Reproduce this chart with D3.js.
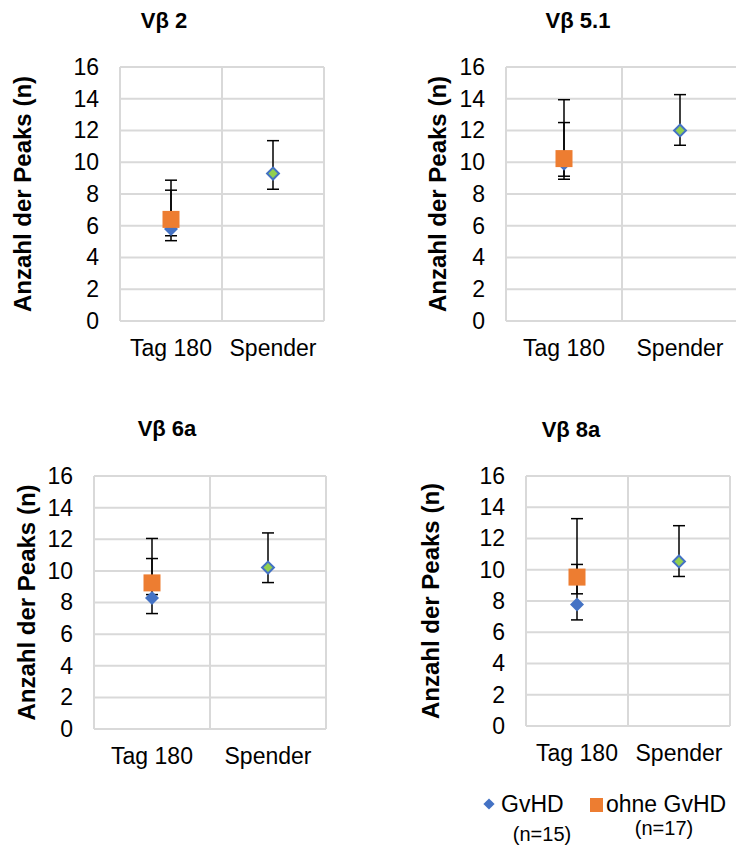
<!DOCTYPE html>
<html>
  <head>
    <meta charset="utf-8">
    <title>Anzahl der Peaks</title>
    <script src="https://d3js.org/d3.v7.min.js"></script>
    <style>
      body { margin: 0; background: #fff; }
      svg { font-family: "Liberation Sans", Arial, sans-serif; }
      .grid line { stroke: #d9d9d9; stroke-width: 2; }
      .yaxis .tick text { font-size: 23px; fill: #000; }
      .xaxis .tick text { font-size: 23px; fill: #000; }
      .title { font-size: 22px; font-weight: bold; }
      .ytitle { font-size: 24px; font-weight: bold; }
      .err { stroke: #000; stroke-width: 1.5; }
    </style>
  </head>
  <body>
    <svg id="chart" width="736" height="849"></svg>
    <script>
      // data
      panelTitles = ["Vβ 2", "Vβ 5.1", "Vβ 6a", "Vβ 8a"];
      categories = ["Tag 180", "Spender"];
      yTicks = [0, 2, 4, 6, 8, 10, 12, 14, 16];
      // GvHD (n=15), Tag 180
      gvhdMean = [5.8, 9.9, 8.29, 7.78];
      gvhdLow = [5.06, 8.93, 7.30, 6.79];
      gvhdHigh = [8.24, 12.5, 10.78, 10.34];
      // ohne GvHD (n=17), Tag 180
      ohneMean = [6.4, 10.23, 9.24, 9.53];
      ohneLow = [5.37, 9.12, 8.5, 8.46];
      ohneHigh = [8.87, 13.94, 12.05, 13.27];
      // Spender
      spenderMean = [9.29, 12.0, 10.21, 10.53];
      spenderLow = [8.3, 11.07, 9.26, 9.57];
      spenderHigh = [11.36, 14.26, 12.4, 12.82];

      // layout of the four panels
      layout = [
        { x0: 120, x1: 324, top: 67, bottom: 321, titleX: 164, titleY: 28, yLab: 31 },
        { x0: 506, x1: 738, top: 67, bottom: 321, titleX: 578, titleY: 28, yLab: 446 },
        { x0: 94, x1: 326, top: 476, bottom: 729, titleX: 167, titleY: 436, yLab: 35 },
        { x0: 526, x1: 730, top: 476, bottom: 726, titleX: 571, titleY: 437, yLab: 439 }
      ];

      svg = d3.select("#chart");
      diamond = d3.symbol().type(d3.symbolDiamond2);

      panelTitles.forEach(function(t, i) {
        let L = layout[i];
        let g = svg.append("g");
        let x = d3.scaleBand().domain(categories).range([L.x0, L.x1]);
        let y = d3.scaleLinear().domain([0, 16]).range([L.bottom, L.top]);

        // grid
        let grid = g.append("g").classed("grid", true);
        grid.selectAll(".h").data(yTicks).enter().append("line")
          .attr("x1", L.x0).attr("x2", L.x1)
          .attr("y1", function(d) { return y(d); })
          .attr("y2", function(d) { return y(d); });
        grid.selectAll(".v").data([L.x0, L.x0 + x.bandwidth(), L.x1]).enter().append("line")
          .attr("x1", function(d) { return d; }).attr("x2", function(d) { return d; })
          .attr("y1", L.top).attr("y2", L.bottom);

        // y axis labels
        let yAxis = d3.axisLeft(y).tickValues(yTicks).tickSize(0).tickPadding(21);
        g.append("g").classed("yaxis", true)
          .attr("transform", "translate(" + L.x0 + ",0)").call(yAxis)
          .call(function(a) { a.select(".domain").remove(); });

        // x axis labels
        let xAxis = d3.axisBottom(x).tickSize(0);
        g.append("g").classed("xaxis", true)
          .attr("transform", "translate(0," + L.bottom + ")").call(xAxis)
          .call(function(a) {
            a.select(".domain").remove();
            a.selectAll("text").attr("y", 35).attr("dy", null);
          });

        g.append("text").classed("title", true)
          .attr("x", L.titleX).attr("y", L.titleY)
          .attr("text-anchor", "middle").text(t);

        g.append("text").classed("ytitle", true)
          .attr("transform", "translate(" + L.yLab + "," + ((L.top + L.bottom) / 2) + ") rotate(-90)")
          .attr("text-anchor", "middle").text("Anzahl der Peaks (n)");

        let cx0 = x("Tag 180") + x.bandwidth() / 2;
        let cx1 = x("Spender") + x.bandwidth() / 2;

        let bars = [
          [cx0, gvhdLow[i], gvhdHigh[i]],
          [cx0, ohneLow[i], ohneHigh[i]],
          [cx1, spenderLow[i], spenderHigh[i]]
        ];
        bars.forEach(function(b) {
          g.append("line").classed("err", true)
            .attr("x1", b[0]).attr("x2", b[0]).attr("y1", y(b[1])).attr("y2", y(b[2]));
          [b[1], b[2]].forEach(function(v) {
            g.append("line").classed("err", true)
              .attr("x1", b[0] - 6).attr("x2", b[0] + 6).attr("y1", y(v)).attr("y2", y(v));
          });
        });

        // markers
        g.append("path")
          .attr("d", diamond.size(125)())
          .attr("transform", "translate(" + cx0 + "," + y(gvhdMean[i]) + ")")
          .attr("fill", "#4472c4");
        g.append("rect")
          .attr("x", cx0 - 8.5).attr("y", y(ohneMean[i]) - 8.5)
          .attr("width", 17).attr("height", 17)
          .attr("fill", "#ed7d31");
        g.append("path")
          .attr("d", diamond.size(90)())
          .attr("transform", "translate(" + cx1 + "," + y(spenderMean[i]) + ")")
          .attr("fill", "#92d050").attr("stroke", "#4472c4").attr("stroke-width", 2);
      });

      // legend
      legend = svg.append("g").style("font-size", "23px");
      legend.append("path")
        .attr("d", diamond.size(80)())
        .attr("transform", "translate(489,804)")
        .attr("fill", "#4472c4");
      legend.append("text").attr("x", 501).attr("y", 812).text("GvHD");
      legend.append("text").attr("x", 542).attr("y", 841).attr("text-anchor", "middle")
        .style("font-size", "20px").text("(n=15)");
      legend.append("rect").attr("x", 590).attr("y", 798).attr("width", 13).attr("height", 14)
        .attr("fill", "#ed7d31");
      legend.append("text").attr("x", 606).attr("y", 812).text("ohne GvHD");
      legend.append("text").attr("x", 664).attr("y", 835).attr("text-anchor", "middle")
        .style("font-size", "20px").text("(n=17)");
    </script>
  </body>
</html>
